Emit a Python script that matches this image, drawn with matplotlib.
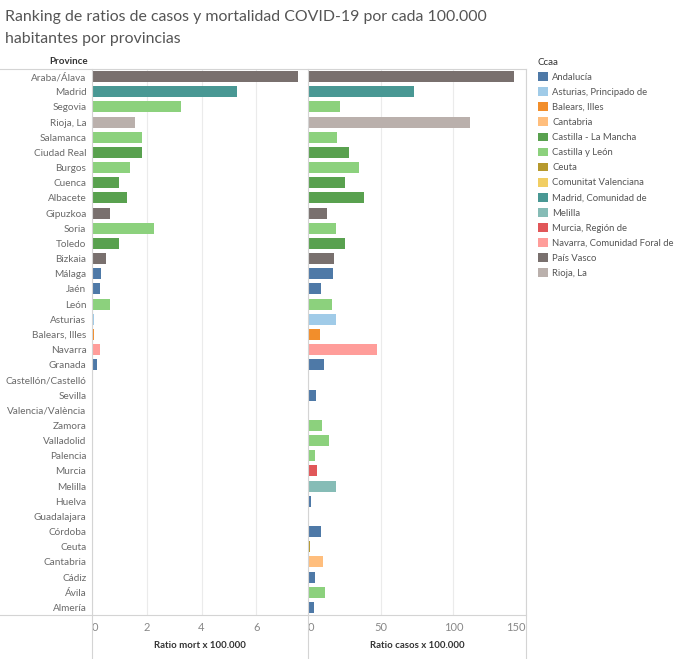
import matplotlib.pyplot as plt
from matplotlib.patches import Patch
from matplotlib.lines import Line2D

# Datos
provincias = ['Araba/Álava', 'Madrid', 'Segovia', 'Rioja, La', 'Salamanca', 'Ciudad Real',
              'Burgos', 'Cuenca', 'Albacete', 'Gipuzkoa', 'Soria', 'Toledo', 'Bizkaia',
              'Málaga', 'Jaén', 'León', 'Asturias', 'Balears, Illes', 'Navarra', 'Granada',
              'Castellón/Castelló', 'Sevilla', 'Valencia/València', 'Zamora', 'Valladolid',
              'Palencia', 'Murcia', 'Melilla', 'Huelva', 'Guadalajara', 'Córdoba', 'Ceuta',
              'Cantabria', 'Cádiz', 'Ávila', 'Almería']

ccaa_prov = ['País Vasco', 'Madrid, Comunidad de', 'Castilla y León', 'Rioja, La',
             'Castilla y León', 'Castilla - La Mancha', 'Castilla y León', 'Castilla - La Mancha',
             'Castilla - La Mancha', 'País Vasco', 'Castilla y León', 'Castilla - La Mancha',
             'País Vasco', 'Andalucía', 'Andalucía', 'Castilla y León',
             'Asturias, Principado de', 'Balears, Illes', 'Navarra, Comunidad Foral de',
             'Andalucía', 'Comunitat Valenciana', 'Andalucía', 'Comunitat Valenciana',
             'Castilla y León', 'Castilla y León', 'Castilla y León', 'Murcia, Región de',
             'Melilla', 'Andalucía', 'Castilla - La Mancha', 'Andalucía', 'Ceuta',
             'Cantabria', 'Andalucía', 'Castilla y León', 'Andalucía']

ratio_mort = [7.52, 5.30, 3.25, 1.56, 1.81, 1.81, 1.40, 1.00, 1.28, 0.67, 2.25, 0.97, 0.51,
              0.34, 0.28, 0.64, 0.08, 0.06, 0.28, 0.20, 0.0, 0.03, 0.0, 0.0, 0.0,
              0.0, 0.0, 0.0, 0.0, 0.0, 0.0, 0.0, 0.0, 0.0, 0.0, 0.0]

ratio_casos = [141.8, 72.6, 21.7, 111.2, 20.1, 27.9, 35.2, 25.8, 38.2, 12.8, 19.4, 25.8, 17.6,
               16.9, 8.7, 16.2, 19.0, 8.0, 47.7, 10.8, 0.0, 5.5, 0.0, 9.6, 14.2,
               4.6, 6.4, 19.4, 1.8, 0.0, 9.2, 1.4, 10.1, 4.8, 11.6, 3.9]

ccaa = ['Andalucía', 'Asturias, Principado de', 'Balears, Illes', 'Cantabria',
        'Castilla - La Mancha', 'Castilla y León', 'Ceuta', 'Comunitat Valenciana',
        'Madrid, Comunidad de', 'Melilla', 'Murcia, Región de', 'Navarra, Comunidad Foral de',
        'País Vasco', 'Rioja, La']
colores = ['#4E79A7', '#A0CBE8', '#F28E2B', '#FFBE7D', '#59A14F', '#8CD17D', '#B6992D',
           '#F1CE63', '#499894', '#86BCB6', '#E15759', '#FF9D9A', '#79706E', '#BAB0AC']

plt.rcParams['font.family'] = ['Lato', 'DejaVu Sans']

W, H = 680, 659
fig = plt.figure(figsize=(W / 100, H / 100), dpi=100)

color_map = dict(zip(ccaa, colores))
bar_colors = [color_map[c] for c in ccaa_prov]
y = list(range(len(provincias)))

top, bottom = 69, 615


def px_axes(x0, x1):
    return fig.add_axes([x0 / W, (H - bottom) / H, (x1 - x0) / W, (bottom - top) / H])


ax1 = px_axes(92, 308)
ax2 = px_axes(308, 526)

ax1.barh(y, ratio_mort, height=0.72, color=bar_colors)
ax2.barh(y, ratio_casos, height=0.72, color=bar_colors)

ax1.set_xlim(0, 7.89)
ax1.set_xticks([0, 2, 4, 6])
ax2.set_xlim(0, 150)
ax2.set_xticks([0, 50, 100, 150])

for ax in (ax1, ax2):
    ax.set_ylim(len(provincias) - 0.5, -0.5)
    ax.grid(axis='x', color='#ebebeb', linewidth=0.8)
    ax.set_axisbelow(True)
    for s in ax.spines.values():
        s.set_visible(False)
    ax.tick_params(axis='x', length=0, labelsize=8, labelcolor='#888888', pad=5)
    ax.tick_params(axis='y', length=0)

ax1.set_yticks(y)
ax1.set_yticklabels(provincias, fontsize=7.2, color='#6a6a6a')
ax1.tick_params(axis='y', pad=4)
ax2.set_yticks([])

ax1.get_xticklabels()[0].set_ha('left')
ax2.get_xticklabels()[0].set_ha('left')
ax2.get_xticklabels()[-1].set_ha('right')

ax1.set_xlabel('Ratio mort x 100.000', fontsize=6.9, fontweight='bold', color='#333333', labelpad=6)
ax2.set_xlabel('Ratio casos x 100.000', fontsize=6.9, fontweight='bold', color='#333333', labelpad=6)

# líneas de la tabla
lc = '#d4d4d4'
def hline(yp, x0, x1):
    fig.add_artist(Line2D([x0 / W, x1 / W], [1 - yp / H, 1 - yp / H], color=lc, lw=0.8))
def vline(xp, y0, y1):
    fig.add_artist(Line2D([xp / W, xp / W], [1 - y0 / H, 1 - y1 / H], color=lc, lw=0.8))

hline(top, 0, 526)
hline(bottom, 0, 526)
vline(92, top, H)
vline(308, top, H)
vline(526, top, H)

fig.text(5 / W, 1 - 10 / H, 'Ranking de ratios de casos y mortalidad COVID-19 por cada 100.000\nhabitantes por provincias',
         fontsize=11.4, color='#555555', va='top', ha='left', linespacing=1.7)
fig.text(88 / W, 1 - 62 / H, 'Province', fontsize=7, fontweight='bold', color='#333333',
         ha='right', va='center')

handles = [Patch(facecolor=c, edgecolor='none') for c in colores]
leg = fig.legend(handles, ccaa, loc='upper left', bbox_to_anchor=(534 / W, 1 - 54 / H),
                 frameon=False, fontsize=6.8, title='Ccaa', title_fontsize=7,
                 handlelength=1.05, handleheight=1.05, handletextpad=0.5,
                 labelspacing=0.58, borderaxespad=0, alignment='left')
for t in leg.get_texts():
    t.set_color('#555555')
leg.get_title().set_color('#333333')

plt.savefig('out.png', dpi=100)
